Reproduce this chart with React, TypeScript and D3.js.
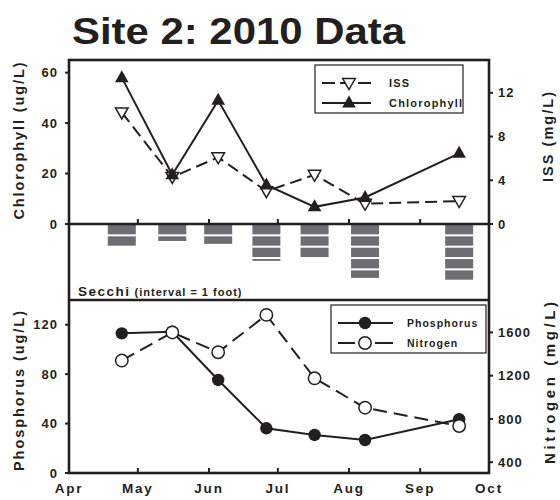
import React from 'react';
import * as d3 from 'd3';

// Sampling dates and measured values for Site 2, 2010
const sampleDates = ['2010-04-24', '2010-05-16', '2010-06-05', '2010-06-26', '2010-07-17', '2010-08-08', '2010-09-18'];
const chlorophyll = [58, 19.5, 49, 15.5, 6.8, 10.5, 28];
const iss = [10.2, 4.3, 6.1, 3.0, 4.5, 1.85, 2.1];
const secchiFeet = [2, 1.5, 1.75, 3.25, 3, 4.75, 5];
const phosphorus = [113, 114.3, 75.3, 36.2, 30.8, 26.7, 43.5];
const nitrogen = [1340, 1600, 1417, 1762, 1176, 904, 735];

// Axis ticks
const monthTicks = ['2010-04-01', '2010-05-01', '2010-06-01', '2010-07-01', '2010-08-01', '2010-09-01', '2010-10-01'];
const chlTicks = [0, 20, 40, 60];
const issTicks = [0, 4, 8, 12];
const phosTicks = [0, 40, 80, 120];
const nitroTicks = [400, 800, 1200, 1600];

const parse = d3.timeParse('%Y-%m-%d');
const dates = sampleDates.map((d) => parse(d) as Date);
const months = monthTicks.map((d) => parse(d) as Date);
const monthFmt = d3.timeFormat('%b');

const L = 69;
const R = 489;
const TOP = 60;
const ZERO = 224;
const MID = 300;
const BOT = 473;

const INK = '#231f20';
const FONT = '"Liberation Sans", Arial, Helvetica, sans-serif';

const x = d3.scaleTime().domain([months[0], months[months.length - 1]]).range([L, R]);
const yChl = d3.scaleLinear().domain([0, 65]).range([ZERO, TOP]);
const yIss = d3.scaleLinear().domain([0, 15]).range([ZERO, TOP]);
const ySec = d3.scaleLinear().domain([0, 6.7]).range([ZERO, MID]);
const yPhos = d3.scaleLinear().domain([0, 140]).range([BOT, MID]);
const yNit = d3.scaleLinear().domain([300, 1900]).range([BOT, MID]);

const triUp = (cx: number, cy: number) =>
  `M${cx},${cy - 7.5}L${cx - 6.8},${cy + 4.5}L${cx + 6.8},${cy + 4.5}Z`;
const triDown = (cx: number, cy: number) =>
  `M${cx - 6.3},${cy - 4.5}L${cx + 6.3},${cy - 4.5}L${cx},${cy + 6.5}Z`;

function seriesLine(vals: number[], y: d3.ScaleLinear<number, number>) {
  return d3
    .line<number>()
    .x((_, i) => x(dates[i]))
    .y((v) => y(v))(vals) as string;
}

const tickText = {
  fontFamily: FONT,
  fontWeight: 700,
  fontSize: 13,
  fill: INK,
  letterSpacing: 1,
} as const;

const axisTitle = {
  fontFamily: FONT,
  fontWeight: 700,
  fontSize: 14.5,
  fill: INK,
} as const;

function LeftAxis({ ticks, scale }: { ticks: number[]; scale: d3.ScaleLinear<number, number> }) {
  return (
    <g>
      {ticks.map((t) => (
        <g key={t}>
          <line x1={L - 4} x2={L} y1={scale(t)} y2={scale(t)} stroke={INK} strokeWidth={2} />
          <text x={58} y={scale(t)} dy="0.36em" textAnchor="end" {...tickText}>
            {t}
          </text>
        </g>
      ))}
    </g>
  );
}

function RightAxis({ ticks, scale }: { ticks: number[]; scale: d3.ScaleLinear<number, number> }) {
  return (
    <g>
      {ticks.map((t) => (
        <g key={t}>
          <line x1={R} x2={R + 4} y1={scale(t)} y2={scale(t)} stroke={INK} strokeWidth={2} />
          <text x={498} y={scale(t)} dy="0.36em" textAnchor="start" {...tickText}>
            {t}
          </text>
        </g>
      ))}
    </g>
  );
}

export default function App() {
  const innerMonths = months.slice(1, -1);

  return (
    <svg
      width={560}
      height={500}
      viewBox="0 0 560 500"
      style={{ position: 'absolute', left: 0, top: 0, background: '#fff' }}
    >
      <rect x={0} y={0} width={560} height={500} fill="#fff" />

      {/* Title */}
      <text
        x={72}
        y={44}
        fontFamily={FONT}
        fontWeight={700}
        fontSize={37}
        fill={INK}
        textLength={333}
        lengthAdjust="spacingAndGlyphs"
      >
        Site 2: 2010 Data
      </text>

      {/* Secchi depth bars, one block per foot */}
      {secchiFeet.map((depth, i) => {
        const cx = x(dates[i]);
        const blocks = [];
        for (let k = 0; k < Math.ceil(depth); k++) {
          const top = ySec(k) + 1;
          const bottom = ySec(Math.min(k + 1, depth)) - (k + 1 <= depth ? 1 : 0);
          blocks.push(
            <rect
              key={k}
              x={cx - 14}
              y={top}
              width={28}
              height={Math.max(bottom - top, 1.5)}
              fill="#6d6e71"
            />
          );
        }
        return <g key={i}>{blocks}</g>;
      })}
      <text x={78} y={296} fontFamily={FONT} fontWeight={700} fill={INK}>
        <tspan fontSize={13.5} letterSpacing={1.5}>Secchi</tspan>
        <tspan fontSize={11} letterSpacing={1} dx={4}>(interval = 1 foot)</tspan>
      </text>

      {/* ISS (dashed, open down triangles) */}
      <path d={seriesLine(iss, yIss)} fill="none" stroke={INK} strokeWidth={2} strokeDasharray="12,6" />
      {iss.map((v, i) => (
        <path key={i} d={triDown(x(dates[i]), yIss(v))} fill="#fff" stroke={INK} strokeWidth={1.5} />
      ))}

      {/* Chlorophyll (solid, filled up triangles) */}
      <path d={seriesLine(chlorophyll, yChl)} fill="none" stroke={INK} strokeWidth={2} />
      {chlorophyll.map((v, i) => (
        <path key={i} d={triUp(x(dates[i]), yChl(v))} fill={INK} />
      ))}

      {/* Phosphorus (solid, filled circles) */}
      <path d={seriesLine(phosphorus, yPhos)} fill="none" stroke={INK} strokeWidth={2} />
      {phosphorus.map((v, i) => (
        <circle key={i} cx={x(dates[i])} cy={yPhos(v)} r={6.2} fill={INK} />
      ))}

      {/* Nitrogen (dashed, open circles) */}
      <path d={seriesLine(nitrogen, yNit)} fill="none" stroke={INK} strokeWidth={2} strokeDasharray="14,7" />
      {nitrogen.map((v, i) => (
        <circle key={i} cx={x(dates[i])} cy={yNit(v)} r={6.2} fill="#fff" stroke={INK} strokeWidth={1.5} />
      ))}

      {/* Frames */}
      <rect x={L} y={TOP} width={R - L} height={BOT - TOP} fill="none" stroke={INK} strokeWidth={2.6} />
      <line x1={L} x2={R} y1={ZERO} y2={ZERO} stroke={INK} strokeWidth={2.6} />
      <line x1={L} x2={R} y1={MID} y2={MID} stroke={INK} strokeWidth={2.6} />

      {/* Month ticks on the zero line and bottom axis */}
      {innerMonths.map((m, i) => (
        <g key={i}>
          <line x1={x(m)} x2={x(m)} y1={ZERO} y2={ZERO - 5} stroke={INK} strokeWidth={2} />
          <line x1={x(m)} x2={x(m)} y1={BOT} y2={BOT - 5} stroke={INK} strokeWidth={2} />
        </g>
      ))}
      {months.map((m, i) => (
        <text key={i} x={x(m)} y={493} textAnchor="middle" {...tickText} fontSize={13.5} letterSpacing={1.8}>
          {monthFmt(m)}
        </text>
      ))}

      <LeftAxis ticks={chlTicks} scale={yChl} />
      <RightAxis ticks={issTicks} scale={yIss} />
      <LeftAxis ticks={phosTicks} scale={yPhos} />
      <RightAxis ticks={nitroTicks} scale={yNit} />

      {/* Axis titles */}
      <text transform="translate(24,141) rotate(-90)" textAnchor="middle" textLength={157} {...axisTitle}>
        Chlorophyll (ug/L)
      </text>
      <text transform="translate(24,391) rotate(-90)" textAnchor="middle" textLength={160} {...axisTitle}>
        Phosphorus (ug/L)
      </text>
      <text transform="translate(553,137) rotate(-90)" textAnchor="middle" textLength={90} {...axisTitle}>
        ISS (mg/L)
      </text>
      <text
        transform="translate(555,383) rotate(-90)"
        textAnchor="middle"
        textLength={162}
        {...axisTitle}
        fontSize={15}
      >
        Nitrogen (mg/L)
      </text>

      {/* Legend: ISS / Chlorophyll */}
      <rect x={315} y={65} width={148} height={48} fill="#fff" stroke={INK} strokeWidth={1.2} />
      <line x1={322} x2={371} y1={83} y2={83} stroke={INK} strokeWidth={2} strokeDasharray="13,5" />
      <path d={triDown(349, 83)} fill="#fff" stroke={INK} strokeWidth={1.5} />
      <line x1={322} x2={371} y1={103} y2={103} stroke={INK} strokeWidth={2} />
      <path d={triUp(349, 103)} fill={INK} />
      <text x={389} y={87} fontFamily={FONT} fontWeight={700} fontSize={11} fill={INK} letterSpacing={1.2}>
        ISS
      </text>
      <text x={389} y={107} fontFamily={FONT} fontWeight={700} fontSize={11} fill={INK} letterSpacing={1.2}>
        Chlorophyll
      </text>

      {/* Legend: Phosphorus / Nitrogen */}
      <rect x={331} y={305} width={155} height={48} fill="#fff" stroke={INK} strokeWidth={1.2} />
      <line x1={338} x2={393} y1={323} y2={323} stroke={INK} strokeWidth={2} />
      <circle cx={365} cy={323} r={6.2} fill={INK} />
      <line x1={338} x2={355} y1={343} y2={343} stroke={INK} strokeWidth={2} />
      <line x1={375} x2={393} y1={343} y2={343} stroke={INK} strokeWidth={2} />
      <circle cx={365} cy={343} r={6.2} fill="#fff" stroke={INK} strokeWidth={1.5} />
      <text x={407} y={327} fontFamily={FONT} fontWeight={700} fontSize={10.5} fill={INK} letterSpacing={1}>
        Phosphorus
      </text>
      <text x={407} y={347} fontFamily={FONT} fontWeight={700} fontSize={10.5} fill={INK} letterSpacing={1}>
        Nitrogen
      </text>
    </svg>
  );
}
